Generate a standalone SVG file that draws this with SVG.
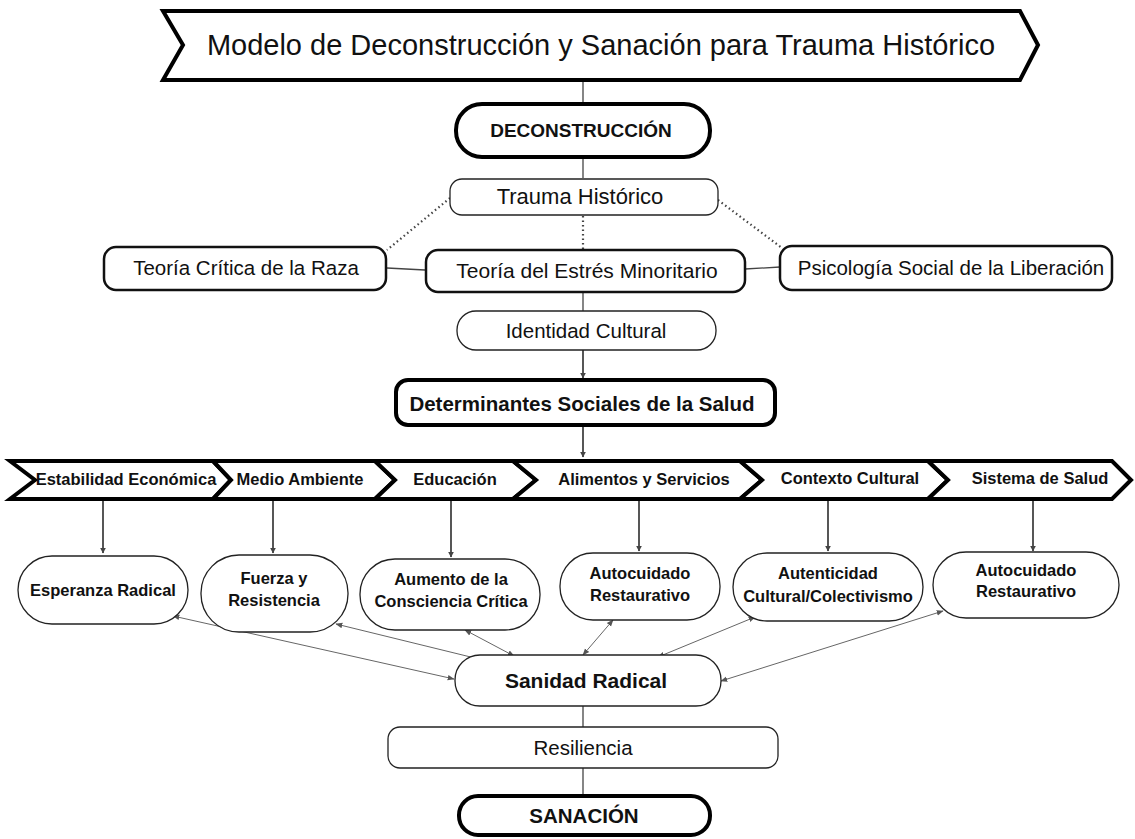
<svg xmlns="http://www.w3.org/2000/svg" width="1135" height="839" viewBox="0 0 1135 839">
<defs>
<marker id="ah" viewBox="0 0 10 10" refX="9" refY="5" markerWidth="6" markerHeight="6" orient="auto-start-reverse" markerUnits="userSpaceOnUse">
<path d="M0,0 L10,5 L0,10 z" fill="#444"/>
</marker>
<marker id="ahs" viewBox="0 0 10 10" refX="9" refY="5" markerWidth="7" markerHeight="7" orient="auto-start-reverse" markerUnits="userSpaceOnUse">
<path d="M0,1 L10,5 L0,9 z" fill="#555"/>
</marker>
<style>
text{font-family:"Liberation Sans",Arial,sans-serif;fill:#111;text-anchor:middle;dominant-baseline:central}
.thick{fill:#fff;stroke:#000;stroke-width:4}
.med{fill:#fff;stroke:#111;stroke-width:2.5}
.thin{fill:#fff;stroke:#222;stroke-width:1.3}
.chev{fill:#fff;stroke:#000;stroke-width:4;stroke-linejoin:miter}
.b{font-weight:bold}
.ln{stroke:#444;stroke-width:1.3;fill:none}
.dot{stroke:#444;stroke-width:2.2;stroke-dasharray:1.5 3;fill:none}
.arr{stroke:#444;stroke-width:1.8;fill:none}
.dbl{stroke:#666;stroke-width:1;fill:none}
.n{font-size:16.5px;font-weight:bold}
</style>
</defs>

<g id="connectors">
<line class="ln" x1="583" y1="82" x2="583" y2="103"/>
<line class="ln" x1="583" y1="157" x2="583" y2="178"/>
<line class="dot" x1="583" y1="216" x2="583" y2="250"/>
<line class="dot" x1="450" y1="198" x2="387" y2="250"/>
<line class="dot" x1="718" y1="200" x2="782" y2="248"/>
<line class="ln" x1="387" y1="268" x2="425" y2="270"/>
<line class="ln" x1="745" y1="269" x2="780" y2="267"/>
<line class="ln" x1="583" y1="292" x2="583" y2="311"/>
<line class="arr" x1="583" y1="350" x2="583" y2="378" marker-end="url(#ah)"/>
<line class="arr" x1="583" y1="426" x2="583" y2="457" marker-end="url(#ah)"/>
<line class="arr" x1="103" y1="499" x2="103" y2="553" marker-end="url(#ah)"/>
<line class="arr" x1="273" y1="499" x2="273" y2="553" marker-end="url(#ah)"/>
<line class="arr" x1="451" y1="499" x2="451" y2="557" marker-end="url(#ah)"/>
<line class="arr" x1="639" y1="499" x2="639" y2="551" marker-end="url(#ah)"/>
<line class="arr" x1="828" y1="499" x2="828" y2="551" marker-end="url(#ah)"/>
<line class="arr" x1="1033" y1="499" x2="1033" y2="551" marker-end="url(#ah)"/>
<line class="dbl" x1="173" y1="616" x2="454" y2="679" marker-start="url(#ahs)" marker-end="url(#ahs)"/>
<line class="dbl" x1="336" y1="624" x2="487" y2="661" marker-start="url(#ahs)" marker-end="url(#ahs)"/>
<line class="dbl" x1="465" y1="630" x2="514" y2="656" marker-start="url(#ahs)" marker-end="url(#ahs)"/>
<line class="dbl" x1="613" y1="620" x2="583" y2="655" marker-start="url(#ahs)" marker-end="url(#ahs)"/>
<line class="dbl" x1="755" y1="617" x2="658" y2="657" marker-start="url(#ahs)" marker-end="url(#ahs)"/>
<line class="dbl" x1="943" y1="611" x2="721" y2="681" marker-start="url(#ahs)" marker-end="url(#ahs)"/>
<line class="ln" x1="583" y1="706" x2="583" y2="727"/>
<line class="ln" x1="583" y1="768" x2="583" y2="796"/>
</g>

<g id="title">
<path class="chev" d="M163,11 L1020,11 L1038,45 L1020,80 L163,80 L183,45 Z" stroke-width="7"/>
<text x="601" y="45" font-size="29">Modelo de Deconstrucción y Sanación para Trauma Histórico</text>
</g>

<g id="deconstruccion">
<rect class="thick" x="456" y="104" width="254" height="53" rx="26"/>
<text class="b" x="581" y="130" font-size="19">DECONSTRUCCIÓN</text>
</g>

<g id="trauma">
<rect class="thin" x="450" y="179" width="268" height="36" rx="12"/>
<text x="580" y="196" font-size="22">Trauma Histórico</text>
</g>

<g id="teoria-critica">
<rect class="med" x="104" y="247" width="282" height="43" rx="12"/>
<text x="246" y="267" font-size="20.5">Teoría Crítica de la Raza</text>
</g>

<g id="teoria-estres">
<rect class="med" x="426" y="250" width="319" height="42" rx="12"/>
<text x="587" y="270" font-size="21">Teoría del Estrés Minoritario</text>
</g>

<g id="psicologia">
<rect class="med" x="780" y="246" width="332" height="44" rx="12"/>
<text x="951" y="267" font-size="20.5">Psicología Social de la Liberación</text>
</g>

<g id="identidad">
<rect class="thin" x="457" y="311" width="259" height="39" rx="19"/>
<text x="586" y="330" font-size="20.5">Identidad Cultural</text>
</g>

<g id="determinantes">
<rect class="thick" x="396" y="380" width="379" height="45" rx="12"/>
<text class="b" x="582" y="403" font-size="20.5">Determinantes Sociales de la Salud</text>
</g>

<g id="estabilidad">
<path class="chev" d="M10,461 L213,461 L231,480 L213,499 L10,499 L35,480 Z"/>
<text class="n" x="126" y="479">Estabilidad Económica</text>
</g>
<g id="medio-ambiente">
<path class="chev" d="M213,461 L375,461 L395,480 L375,499 L213,499 L231,480 Z"/>
<text class="n" x="300" y="479">Medio Ambiente</text>
</g>
<g id="educacion">
<path class="chev" d="M375,461 L513,461 L536,480 L513,499 L375,499 L395,480 Z"/>
<text class="n" x="455" y="479">Educación</text>
</g>
<g id="alimentos">
<path class="chev" d="M513,461 L740,461 L762,480 L740,499 L513,499 L536,480 Z"/>
<text class="n" x="644" y="479">Alimentos y Servicios</text>
</g>
<g id="contexto">
<path class="chev" d="M740,461 L928,461 L948,480 L928,499 L740,499 L762,480 Z"/>
<text class="n" x="850" y="478">Contexto Cultural</text>
</g>
<g id="sistema">
<path class="chev" d="M928,461 L1112,461 L1131,480 L1112,499 L928,499 L948,480 Z"/>
<text class="n" x="1040" y="478">Sistema de Salud</text>
</g>

<g id="esperanza">
<rect class="thin" x="18" y="556" width="170" height="68" rx="34"/>
<text class="n" x="103" y="590">Esperanza Radical</text>
</g>
<g id="fuerza">
<rect class="thin" x="201" y="555" width="147" height="77" rx="38"/>
<text class="n" x="274" y="578">Fuerza y</text>
<text class="n" x="274" y="600">Resistencia</text>
</g>
<g id="aumento">
<rect class="thin" x="360" y="559" width="180" height="71" rx="35"/>
<text class="n" x="451" y="579">Aumento de la</text>
<text class="n" x="451" y="601">Consciencia Crítica</text>
</g>
<g id="autocuidado1">
<rect class="thin" x="560" y="553" width="160" height="67" rx="33"/>
<text class="n" x="640" y="573">Autocuidado</text>
<text class="n" x="640" y="595">Restaurativo</text>
</g>
<g id="autenticidad">
<rect class="thin" x="733" y="553" width="190" height="68" rx="34"/>
<text class="n" x="828" y="573">Autenticidad</text>
<text class="n" x="828" y="596">Cultural/Colectivismo</text>
</g>
<g id="autocuidado2">
<rect class="thin" x="933" y="552" width="186" height="66" rx="33"/>
<text class="n" x="1026" y="570">Autocuidado</text>
<text class="n" x="1026" y="591">Restaurativo</text>
</g>

<g id="sanidad">
<rect class="thin" x="455" y="655" width="266" height="51" rx="25"/>
<text class="b" x="586" y="680" font-size="21">Sanidad Radical</text>
</g>

<g id="resiliencia">
<rect class="thin" x="388" y="727" width="390" height="41" rx="12"/>
<text x="583" y="747" font-size="20.5">Resiliencia</text>
</g>

<g id="sanacion">
<rect class="thick" x="459" y="796" width="251" height="39" rx="19"/>
<text class="b" x="584" y="815" font-size="20.5">SANACIÓN</text>
</g>
</svg>
